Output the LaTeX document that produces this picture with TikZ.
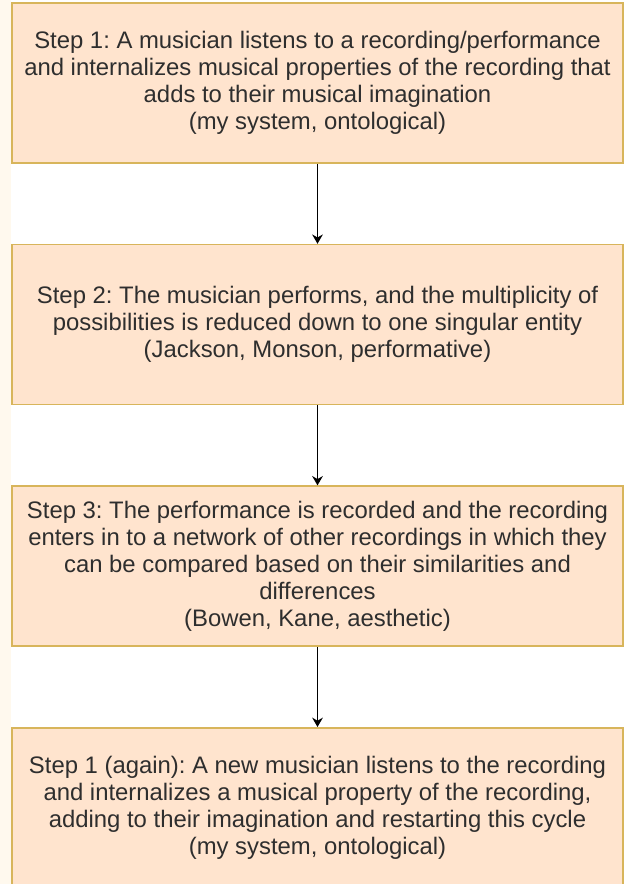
\documentclass[tikz,border=0pt]{standalone}
\usepackage{fontspec}
\setmainfont{Liberation Sans}
\usetikzlibrary{arrows.meta, positioning}

\definecolor{stepfill}{HTML}{FFE4CE}
\definecolor{stepline}{HTML}{D8B55B}
\definecolor{margincream}{HTML}{FFF9EE}
\frenchspacing

\begin{document}
\begin{tikzpicture}[
						x=0.75pt, y=-0.75pt,
						node distance={60pt},
						stepbox/.style = {draw=stepline, fill=stepfill, line width=1.2pt, rectangle, minimum width=458.25pt, minimum height=120pt, inner sep=0pt, align=center, text=black!82, font=\fontsize{17.9}{20.25}\selectfont},
						flow/.style = {->, line width=1.1pt, >={Stealth[length=7pt, width=8pt]}}
					]
\fill[white] (0,0) rectangle (628,884);
\fill[margincream] (0,0) rectangle (11,884);
\useasboundingbox (0,0) rectangle (628,884);

\node[stepbox] (s1) at (317.5,83) {Step 1: A musician listens to a recording/performance\\and internalizes musical properties of the recording that\\adds to their musical imagination\\(my system, ontological)};
\node[stepbox] (s2) [below=of s1] {Step 2: The musician performs, and the multiplicity of\\possibilities is reduced down to one singular entity\\(Jackson, Monson, performative)};
\node[stepbox] (s3) [below=of s2] {Step 3: The performance is recorded and the recording\\enters in to a network of other recordings in which they\\can be compared based on their similarities and\\differences\\(Bowen, Kane, aesthetic)};
\node[stepbox] (s4) [below=of s3] {Step 1 (again): A new musician listens to the recording\\and internalizes a musical property of the recording,\\adding to their imagination and restarting this cycle\\(my system, ontological)};

\draw[flow] (s1) -- (s2);
\draw[flow] (s2) -- (s3);
\draw[flow] (s3) -- (s4);
\end{tikzpicture}
\end{document}
